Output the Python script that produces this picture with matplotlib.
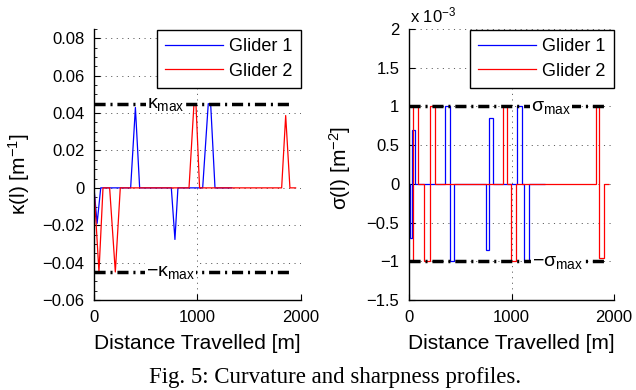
import matplotlib
matplotlib.use("Agg")
import matplotlib.pyplot as plt
from matplotlib.ticker import FuncFormatter, AutoMinorLocator

plt.rcParams['font.family'] = ['Liberation Sans', 'DejaVu Sans']
plt.rcParams['mathtext.fontset'] = 'custom'
plt.rcParams['mathtext.rm'] = 'Liberation Sans'
plt.rcParams['mathtext.it'] = 'Liberation Sans:italic'
plt.rcParams['lines.scale_dashes'] = False

# curvature profiles [1/m] vs distance [m]
g1_dist = [0, 30, 65, 354, 400, 441, 747, 782, 811, 1050, 1104, 1127, 1169, 1330]
g1_kappa = [0, -0.019, 0, 0, 0.043, 0, 0, -0.0276, 0, 0, 0.045, 0.045, 0, 0]
g2_dist = [0, 48, 87, 151, 206, 254, 918, 966, 985, 1020, 1813, 1852, 1893, 1948]
g2_kappa = [0, -0.045, 0, 0, -0.045, 0, 0, 0.045, 0.045, 0, 0, 0.0387, 0, 0]

# sharpness profiles (step values in units of 1e-3 1/m^2, between edges)
sigma_scale = 1e-3
g1_edges = [0, 10, 26, 59, 351, 400, 439, 748, 780, 816, 1057, 1102, 1125, 1174, 1330]
g1_sigma = [0, -0.7, 0.7, 0, 1, -1, 0, -0.85, 0.85, 0, 1, 0, -1, 0]
g2_edges = [0, 36, 85, 146, 200, 254, 920, 959, 992, 1041, 1824, 1857, 1906, 1954]
g2_sigma = [-1, 1, 0, -1, 1, 0, 1, 0, -1, 0, 1, -0.96, 0]

kappa_max = 0.045
sigma_max = 1.0
limit_x = [0, 1900]
labels = ['Glider 1', 'Glider 2']
colors = ['#0000ff', '#ff0000']

fig = plt.figure(figsize=(6.36, 3.9), dpi=100)
ax1 = fig.add_axes([94 / 636, 1 - 300 / 390, 207 / 636, 271 / 390])
ax2 = fig.add_axes([409 / 636, 1 - 300 / 390, 205 / 636, 271 / 390])


def fmt(v, pos):
    return ('%g' % round(v, 6)).replace('-', '\u2212')


def fmt_scaled(v, pos):
    return ('%g' % round(v / sigma_scale, 6)).replace('-', '\u2212')


dash = (8, 3.5, 1.5, 3.5)
txt_box = dict(facecolor='white', edgecolor='none', pad=0.5)

# left: curvature
ax1.plot(g1_dist, g1_kappa, color=colors[0], lw=0.9, label=labels[0])
ax1.plot(g2_dist, g2_kappa, color=colors[1], lw=0.9, label=labels[1])
ax1.plot(limit_x, [kappa_max, kappa_max], color='k', lw=2.5, dashes=dash)
ax1.plot(limit_x, [-kappa_max, -kappa_max], color='k', lw=2.5, dashes=dash)
ax1.text(512, kappa_max - 0.0021, '\u03ba$_{\\mathrm{max}}$', fontsize=14,
         va='baseline', bbox=txt_box)
ax1.text(503, -kappa_max - 0.0021, '\u2212\u03ba$_{\\mathrm{max}}$', fontsize=14,
         va='baseline', bbox=txt_box)
ax1.set_xlim(0, 2000)
ax1.set_ylim(-0.06, 0.085)
ax1.set_yticks([-0.06, -0.04, -0.02, 0, 0.02, 0.04, 0.06, 0.08])
ax1.yaxis.set_minor_locator(AutoMinorLocator(4))
ax1.yaxis.set_major_formatter(FuncFormatter(fmt))
ax1.set_ylabel('\u03ba(l) [m$^{-1}$]', fontsize=15)
ax1.yaxis.set_label_coords(-0.30, 0.463)

# right: sharpness
ax2.stairs([s * sigma_scale for s in g1_sigma], g1_edges, baseline=None,
           color=colors[0], lw=0.9, label=labels[0])
ax2.stairs([s * sigma_scale for s in g2_sigma], g2_edges, baseline=None,
           color=colors[1], lw=0.9, label=labels[1])
smax = sigma_max * sigma_scale
ax2.plot(limit_x, [smax, smax], color='k', lw=2.5, dashes=dash)
ax2.plot(limit_x, [-smax, -smax], color='k', lw=2.5, dashes=dash)
ax2.text(1190, smax - 0.055 * sigma_scale, '\u03c3$_{\\mathrm{max}}$', fontsize=14,
         va='baseline', bbox=txt_box)
ax2.text(1200, -smax - 0.055 * sigma_scale, '\u2212\u03c3$_{\\mathrm{max}}$', fontsize=14,
         va='baseline', bbox=txt_box)
ax2.set_xlim(0, 2000)
ax2.set_ylim(-1.5e-3, 2e-3)
ax2.set_yticks([-1.5e-3, -1e-3, -0.5e-3, 0, 0.5e-3, 1e-3, 1.5e-3, 2e-3])
ax2.yaxis.set_major_formatter(FuncFormatter(fmt_scaled))
ax2.set_ylabel('\u03c3(l) [m$^{-2}$]', fontsize=15)
ax2.yaxis.set_label_coords(-0.273, 0.487)
fig.text(410 / 636, 1 - 15 / 390, 'x 10$^{-3}$', fontsize=12, va='center')

for ax in (ax1, ax2):
    ax.set_xticks([0, 1000, 2000])
    ax.xaxis.set_major_formatter(FuncFormatter(fmt))
    ax.spines['top'].set_visible(False)
    ax.spines['right'].set_visible(False)
    for s in ('left', 'bottom'):
        ax.spines[s].set_linewidth(1.0)
    ax.tick_params(which='major', direction='in', length=4, labelsize=12, pad=7)
    ax.tick_params(which='minor', direction='in', length=2)
    ax.grid(True, which='major', color='#444444', lw=0.6, dashes=(0.8, 3.2))
    ax.set_axisbelow(True)
    ax.set_xlabel('Distance Travelled [m]', fontsize=15)
    ax.xaxis.set_label_coords(0.5, -0.125)
    leg = ax.legend(loc='upper right', bbox_to_anchor=(1.0, 0.995), borderaxespad=0,
                    fontsize=13, fancybox=False, framealpha=1, edgecolor='k',
                    handlelength=3.2, handletextpad=0.35, labelspacing=0.4,
                    borderpad=0.45)
    leg.get_frame().set_linewidth(1.0)

fig.text(0.527, 2 / 390, 'Fig. 5: Curvature and sharpness profiles.',
         family='Liberation Serif', fontsize=16.5, ha='center', va='bottom')

fig.savefig('out.png', dpi=100)
